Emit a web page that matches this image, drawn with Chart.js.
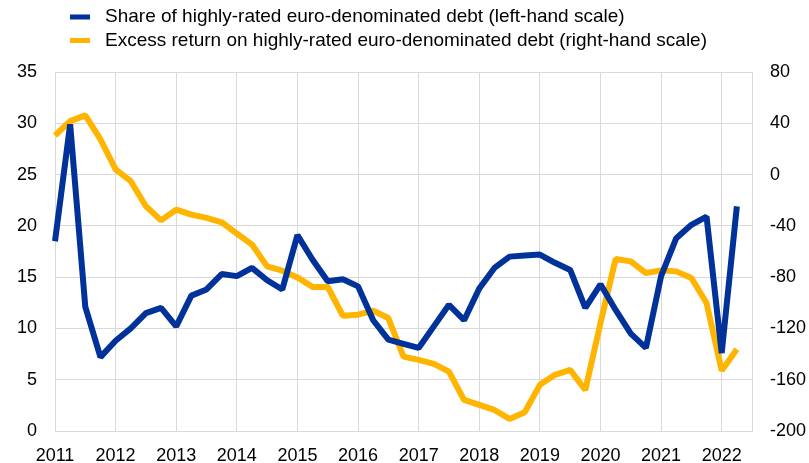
<!DOCTYPE html>
<html>
<head>
<meta charset="utf-8">
<script src="https://cdn.jsdelivr.net/npm/chart.js@4/dist/chart.umd.min.js"></script>
<style>
  html, body { margin: 0; padding: 0; background: #fff; }
  #wrap { width: 809px; height: 463px; }
</style>
</head>
<body>
<div id="wrap"><canvas id="grafico"></canvas></div>
<script>
// Quarterly categories (2011Q1 .. 2022Q3, last one left empty)
const quarters = [
  "2011Q1","2011Q2","2011Q3","2011Q4","2012Q1","2012Q2","2012Q3","2012Q4",
  "2013Q1","2013Q2","2013Q3","2013Q4","2014Q1","2014Q2","2014Q3","2014Q4",
  "2015Q1","2015Q2","2015Q3","2015Q4","2016Q1","2016Q2","2016Q3","2016Q4",
  "2017Q1","2017Q2","2017Q3","2017Q4","2018Q1","2018Q2","2018Q3","2018Q4",
  "2019Q1","2019Q2","2019Q3","2019Q4","2020Q1","2020Q2","2020Q3","2020Q4",
  "2021Q1","2021Q2","2021Q3","2021Q4","2022Q1","2022Q2","2022Q3"
];

const seriesNames = [
  "Share of highly-rated euro-denominated debt (left-hand scale)",
  "Excess return on highly-rated euro-denominated debt (right-hand scale)"
];

// Left-hand scale (%)
const shareHighlyRated = [
  18.5, 29.9, 12.1, 7.2, 8.8, 10.0, 11.5, 12.0,
  10.2, 13.2, 13.8, 15.3, 15.1, 15.9, 14.7, 13.8,
  19.1, 16.7, 14.6, 14.8, 14.1, 10.8, 8.9, 8.5,
  8.1, 10.2, 12.3, 10.8, 13.9, 15.9, 17.0, 17.1,
  17.2, 16.4, 15.7, 12.0, 14.3, 11.8, 9.5, 8.1,
  15.1, 18.8, 20.1, 20.9, 7.6, 21.9, null
];

// Right-hand scale
const excessReturn = [
  30.5, 41.7, 46.2, 27.4, 4.0, -5.2, -24.7, -35.7,
  -27.3, -31.2, -33.8, -37.2, -46.0, -54.6, -71.6, -75.0,
  -80.2, -87.7, -87.7, -110.1, -109.3, -106.2, -111.9, -142.0,
  -144.5, -147.6, -153.7, -175.8, -179.7, -183.6, -190.6, -185.4,
  -164.0, -156.2, -152.3, -168.0, -115.8, -65.8, -67.7, -76.8,
  -74.7, -75.5, -80.7, -100.2, -152.9, -136.2, null
];

const leftTicks = { min: 0, max: 35, step: 5 };
const rightTicks = { min: -200, max: 80, step: 40 };

const corAzul = "#003299";
const corAmarela = "#FFB400";
const corGrade = "#d9d9d9";
const fonte = "'Liberation Sans', Arial, sans-serif";

// Legenda desenhada à mão, no topo à esquerda
const legendaPlugin = {
  id: "legendaManual",
  afterDraw(chart) {
    const ctx = chart.ctx;
    const cores = [corAzul, corAmarela];
    ctx.save();
    ctx.font = "19px " + fonte;
    ctx.textBaseline = "middle";
    seriesNames.forEach((nome, i) => {
      const y = 17 + i * 23.5;
      ctx.fillStyle = cores[i];
      ctx.fillRect(70, y - 2.5, 20, 5);
      ctx.fillStyle = "#000";
      ctx.fillText(nome, 105, y);
    });
    ctx.restore();
  }
};

const ctx = document.getElementById("grafico").getContext("2d");

new Chart(ctx, {
  type: "line",
  data: {
    labels: quarters,
    datasets: [
      {
        label: seriesNames[0],
        data: shareHighlyRated,
        borderColor: corAzul,
        borderWidth: 6,
        borderJoinStyle: "bevel",
        pointRadius: 0,
        tension: 0,
        yAxisID: "y"
      },
      {
        label: seriesNames[1],
        data: excessReturn,
        borderColor: corAmarela,
        borderWidth: 6,
        borderJoinStyle: "bevel",
        pointRadius: 0,
        tension: 0,
        yAxisID: "y1"
      }
    ]
  },
  options: {
    responsive: true,
    maintainAspectRatio: false,
    animation: false,
    layout: { padding: { top: 72, left: 0, right: 0, bottom: 0 } },
    plugins: {
      legend: { display: false },
      tooltip: { enabled: false }
    },
    scales: {
      x: {
        offset: false,
        grid: {
          drawTicks: false,
          color: (c) => (c.index % 4 === 0 ? corGrade : "transparent")
        },
        border: { color: corGrade },
        ticks: {
          autoSkip: false,
          maxRotation: 0,
          padding: 14,
          color: "#000",
          font: { size: 18, family: fonte },
          callback: function(value, index) {
            const q = quarters[index];
            return q.endsWith("Q1") ? q.slice(0, 4) : "";
          }
        },
        afterFit: (s) => { s.height = 32; }
      },
      y: {
        position: "left",
        min: leftTicks.min,
        max: leftTicks.max,
        grid: { drawTicks: false, color: corGrade },
        border: { color: corGrade },
        ticks: {
          stepSize: leftTicks.step,
          padding: 18,
          color: "#000",
          font: { size: 18, family: fonte }
        },
        afterFit: (s) => { s.width = 55; }
      },
      y1: {
        position: "right",
        min: rightTicks.min,
        max: rightTicks.max,
        grid: { display: false, drawTicks: false },
        border: { color: corGrade },
        ticks: {
          stepSize: rightTicks.step,
          padding: 18,
          color: "#000",
          font: { size: 18, family: fonte }
        },
        afterFit: (s) => { s.width = 57; }
      }
    }
  },
  plugins: [legendaPlugin]
});
</script>
</body>
</html>
